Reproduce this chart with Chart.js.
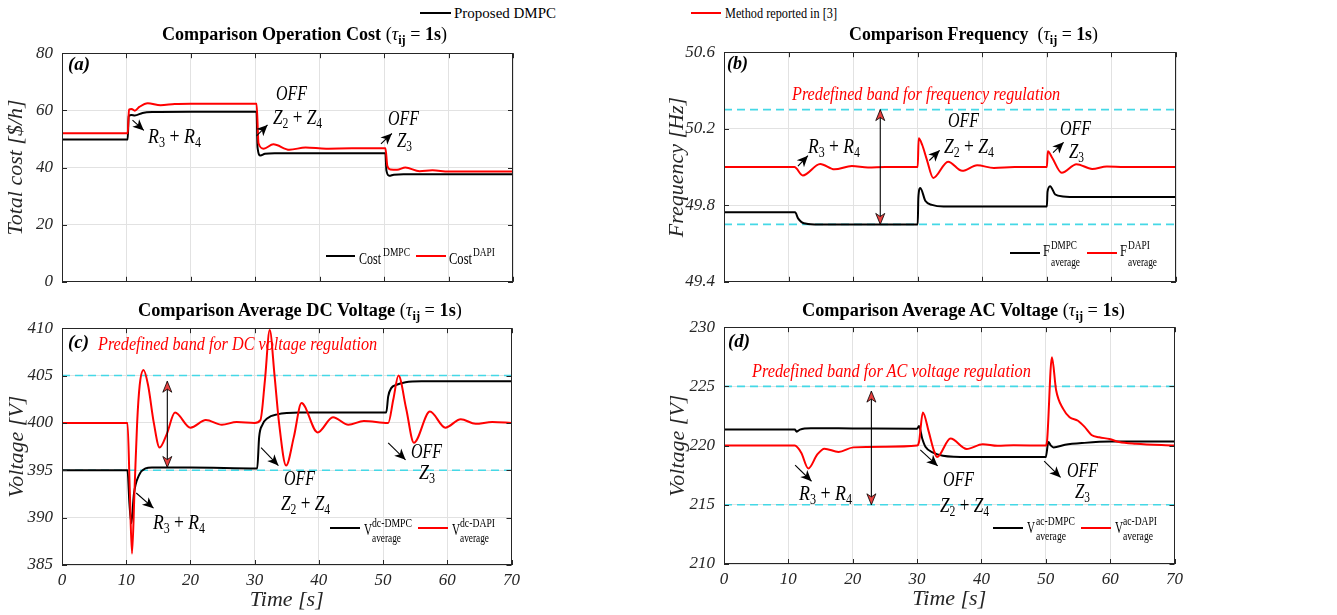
<!DOCTYPE html>
<html>
<head>
<meta charset="utf-8">
<script src="https://cdn.jsdelivr.net/npm/chart.js@4.4.1/dist/chart.umd.min.js"></script>
<style>
  body { margin: 0; background: #fff; width: 1337px; height: 615px; overflow: hidden; position: relative; font-family: "Liberation Serif", serif; }
  .panel { position: absolute; }
  .t { position: absolute; white-space: nowrap; line-height: 1; transform-origin: 0 50%; color: #000; }
  .t sub { font-size: 0.68em; vertical-align: -0.3em; line-height: 0; }
  .lg { font-size: 15px; }
  .ttl { font-size: 18px; }
  .tag { font-size: 19px; font-weight: bold; font-style: italic; }
  .band { font-size: 18px; font-style: italic; color: #ff0000; }
  .ann { font-size: 20px; }
  .ann i { font-style: italic; }
  .lgt { font-size: 16px; }
  .lgs { font-size: 12px; }
  .ln { position: absolute; height: 0; border-top: 2px solid #000; }
</style>
</head>
<body>
<div class="panel" style="left:0px;top:34px;width:525px;height:267px"><canvas id="chartCost"></canvas></div>
<div class="panel" style="left:660px;top:33px;width:528px;height:268px"><canvas id="chartFreq"></canvas></div>
<div class="panel" style="left:0px;top:309px;width:525px;height:304px"><canvas id="chartVdc"></canvas></div>
<div class="panel" style="left:660px;top:308px;width:528px;height:304px"><canvas id="chartVac"></canvas></div>
<script>
// ---- data ----
const timeTicks = [0, 10, 20, 30, 40, 50, 60, 70];
const costTicks = [0, 20, 40, 60, 80];
const freqTicks = [49.4, 49.8, 50.2, 50.6];
const vdcTicks = [385, 390, 395, 400, 405, 410];
const vacTicks = [210, 215, 220, 225, 230];

const freqBand = [49.7, 50.3];
const vdcBand = [395, 405];
const vacBand = [215, 225];

// (a) operation cost
const timeCostDmpc = [0, 10.2, 10.35, 10.8, 11.3, 12.5, 14, 20, 30.2, 30.35, 30.8, 31.5, 33, 50.2, 50.35, 50.8, 51.5, 53, 70];
const costDmpc = [49.8, 49.8, 58.0, 58.4, 58.2, 59.1, 59.4, 59.5, 59.5, 47.0, 44.2, 44.8, 45.0, 45.0, 39.0, 37.1, 37.5, 37.6, 37.6];
const timeCostDapi = [0, 10.2, 10.4, 10.8, 11.3, 12, 13.3, 15.3, 17.5, 20, 25, 30.2, 30.5, 31.3, 32.8, 35.3, 37.8, 41, 45, 50.2, 50.5, 51, 52, 53.3, 55.5, 57.5, 60, 70];
const costDapi = [52.0, 52.0, 60.3, 60.5, 59.9, 61.2, 62.5, 61.8, 62.2, 62.3, 62.3, 62.3, 48.5, 46.6, 48.1, 46.2, 47.0, 46.6, 46.7, 46.7, 40.5, 39.3, 39.2, 40.0, 38.7, 39.0, 38.6, 38.6];

// (b) frequency
const timeFreqDmpc = [0, 11, 11.5, 12, 13, 14, 30, 30.1, 30.4, 31.2, 32.2, 34, 50, 50.1, 50.5, 51.3, 52.5, 55, 70];
const freqDmpc = [49.763, 49.763, 49.73, 49.712, 49.702, 49.70, 49.70, 49.84, 49.89, 49.822, 49.802, 49.793, 49.793, 49.87, 49.9, 49.856, 49.846, 49.843, 49.843];
const timeFreqDapi = [0, 10.9, 12.2, 14.9, 17.1, 19.8, 22.3, 25, 30, 30.15, 30.7, 31.4, 32.4, 34.7, 36.9, 39.2, 41.8, 45, 50, 50.15, 50.8, 52.3, 54.6, 57, 59.3, 62, 70];
const freqDapi = [50.0, 50.0, 49.956, 50.016, 49.988, 50.005, 49.997, 50.0, 50.0, 50.15, 50.115, 50.04, 49.943, 50.028, 49.98, 50.009, 49.995, 50.0, 50.0, 50.082, 50.05, 49.97, 50.015, 49.99, 50.003, 50.0, 50.0];

// (c) average DC voltage
const timeVdcDmpc = [0, 10.2, 10.5, 10.8, 11.2, 12, 13, 14, 20, 30.4, 30.7, 31.2, 32, 33.5, 37, 50.5, 50.8, 51.3, 52, 53.5, 56, 70];
const vdcDmpc = [395, 395, 391.5, 389.4, 392.5, 394.5, 395.2, 395.3, 395.3, 395.2, 398.5, 399.8, 400.5, 400.9, 401.1, 401.1, 402.8, 403.7, 404.0, 404.3, 404.4, 404.4];
const timeVdcDapi = [0, 10.2, 10.55, 10.9, 11.3, 11.7, 12.1, 12.7, 13.4, 14.3, 15.2, 16.3, 17.6, 20, 22.4, 24.9, 27.2, 30, 30.9, 31.6, 32.35, 33.1, 33.8, 34.9, 36.1, 37.3, 39.8, 42.2, 44.6, 47, 50.8, 51.6, 52.4, 53.6, 54.8, 57.3, 59.7, 62.1, 64.4, 67, 70];
const vdcDapi = [400, 400, 393, 386.2, 393, 400, 404, 405.6, 404, 400, 397.4, 398.8, 401.1, 399.5, 400.3, 399.8, 400.1, 400, 400.3, 404.5, 409.8, 405, 400, 395.5, 398.5, 402.1, 399.0, 400.6, 399.8, 400.2, 400, 402.5, 405.0, 401.5, 397.9, 401.2, 399.5, 400.4, 399.9, 400.1, 400];

// (d) average AC voltage
const timeVacDmpc = [0, 11, 11.3, 11.8, 13.5, 20, 30, 30.3, 30.8, 31.3, 32.5, 34, 38, 50, 50.4, 50.8, 51.2, 53, 56, 60, 70];
const vacDmpc = [221.35, 221.35, 221.18, 221.35, 221.47, 221.45, 221.42, 221.65, 220.6, 219.9, 219.4, 219.15, 219.03, 219.03, 220.3, 220.0, 219.85, 220.07, 220.23, 220.34, 220.35];
const timeVacDapi = [0, 11, 12, 13.1, 14.5, 15.6, 17.8, 20.1, 25, 30, 30.3, 30.9, 31.8, 32.6, 33.1, 35.2, 37.7, 40.2, 42.5, 45, 50, 50.2, 50.95, 51.6, 52.7, 53.7, 55, 56, 57.1, 58.3, 59.9, 61.4, 64, 70];
const vacDapi = [220, 220, 219.4, 218.07, 219.25, 219.74, 219.47, 219.85, 219.9, 220, 220.3, 222.8, 221.2, 219.6, 219.04, 220.6, 219.72, 220.12, 219.98, 220.02, 220, 220.4, 227.47, 224.7, 223.1, 222.4, 222.1, 221.6, 220.9, 220.7, 220.56, 220.3, 220.15, 220.0];

// annotation arrows, in data units: [t1, v1, t2, v2]
const arrowsCost = [[10.94, 56.6, 12.7, 52.96], [30.2, 51.1, 31.9, 54.9], [49.5, 48.3, 51.2, 51.9]];
const arrowsFreq = [[11.45, 50.004, 13.0, 50.059], [31.8, 50.034, 33.4, 50.087], [50.96, 50.075, 52.6, 50.129]];
const arrowsVdc = [[11.56, 392.6, 14.25, 391.0], [31.0, 397.4, 33.7, 395.5], [50.8, 397.9, 53.5, 396.1]];
const arrowsVac = [[11.05, 218.36, 13.6, 216.99], [30.5, 219.64, 33.2, 218.28], [49.75, 218.69, 52.3, 217.31]];
// double arrows marking the bands: [t, v1, v2]
const spanFreq = [24.2, 50.3, 49.7];
const spanVdc = [16.4, 404.4, 395.3];
const spanVac = [22.9, 224.6, 215];

const GRID = '#e2e2e2';
const AXIS = '#262626';
const CYAN = '#45d8e6';
const tickFont = { family: 'Liberation Serif', size: 17, style: 'italic' };
const titleFont = { family: 'Liberation Serif', size: 22, style: 'italic' };

function pts(ts, vs) {
  return ts.map((t, i) => ({ x: t, y: vs[i] }));
}

function head(ctx, x1, y1, x2, y2, len, half) {
  const a = Math.atan2(y2 - y1, x2 - x1);
  const c = Math.cos(a), s = Math.sin(a);
  const bx = x2 - len * c, by = y2 - len * s;
  ctx.beginPath();
  ctx.moveTo(x2, y2);
  ctx.lineTo(bx - half * s, by + half * c);
  ctx.lineTo(x2 - len * 0.72 * c, y2 - len * 0.72 * s);
  ctx.lineTo(bx + half * s, by - half * c);
  ctx.closePath();
}

// box, inward ticks and annotation arrows (MATLAB look)
const overlayPlugin = {
  id: 'overlay',
  afterDraw(chart, args, opts) {
    const { ctx, chartArea: ca } = chart;
    const x = chart.scales.x, y = chart.scales.y;
    ctx.save();
    ctx.strokeStyle = AXIS;
    ctx.lineWidth = 1;
    ctx.beginPath();
    opts.xt.forEach(v => {
      const px = Math.round(x.getPixelForValue(v)) + 0.5;
      ctx.moveTo(px, ca.bottom); ctx.lineTo(px, ca.bottom - 5);
      ctx.moveTo(px, ca.top); ctx.lineTo(px, ca.top + 5);
    });
    opts.yt.forEach(v => {
      const py = Math.round(y.getPixelForValue(v)) + 0.5;
      ctx.moveTo(ca.left, py); ctx.lineTo(ca.left + 5, py);
      ctx.moveTo(ca.right, py); ctx.lineTo(ca.right - 5, py);
    });
    ctx.stroke();
    ctx.strokeRect(Math.round(ca.left) + 0.5, Math.round(ca.top) + 0.5,
      Math.round(ca.right - ca.left) - 1, Math.round(ca.bottom - ca.top) - 1);

    ctx.strokeStyle = '#000';
    ctx.fillStyle = '#000';
    (opts.arrows || []).forEach(a => {
      const x1 = x.getPixelForValue(a[0]), y1 = y.getPixelForValue(a[1]);
      const x2 = x.getPixelForValue(a[2]), y2 = y.getPixelForValue(a[3]);
      ctx.lineWidth = 1.1;
      ctx.beginPath(); ctx.moveTo(x1, y1); ctx.lineTo(x2, y2); ctx.stroke();
      head(ctx, x1, y1, x2, y2, 11, 5);
      ctx.fill();
    });
    if (opts.span) {
      const s = opts.span;
      const px = x.getPixelForValue(s[0]);
      const p1 = y.getPixelForValue(s[1]), p2 = y.getPixelForValue(s[2]);
      ctx.lineWidth = 1.1;
      ctx.beginPath(); ctx.moveTo(px, p1); ctx.lineTo(px, p2); ctx.stroke();
      ctx.fillStyle = '#e8403f';
      ctx.lineWidth = 0.8;
      head(ctx, px, p2, px, p1, 11, 4.5); ctx.fill(); ctx.stroke();
      head(ctx, px, p1, px, p2, 11, 4.5); ctx.fill(); ctx.stroke();
    }
    ctx.restore();
  }
};

function makeChart(id, c) {
  const datasets = [
    { data: pts(c.tRed, c.vRed), borderColor: '#ff0000', order: 0 },
    { data: pts(c.tBlack, c.vBlack), borderColor: '#000000', order: 1 }
  ];
  (c.band || []).forEach(b => {
    datasets.push({ data: [{ x: 0, y: b }, { x: 70, y: b }], borderColor: CYAN, borderWidth: 1.6, borderDash: [8, 5], order: 2, cubicInterpolationMode: 'default', tension: 0 });
  });
  new Chart(document.getElementById(id), {
    type: 'line',
    data: { datasets },
    options: {
      animation: false,
      responsive: true,
      maintainAspectRatio: false,
      layout: { padding: { top: 12, right: 12, left: 0, bottom: 0 } },
      elements: { point: { radius: 0 }, line: { borderWidth: 2, cubicInterpolationMode: 'monotone' } },
      plugins: {
        legend: { display: false },
        tooltip: { enabled: false },
        overlay: { xt: timeTicks, yt: c.yTicks, arrows: c.arrows, span: c.span }
      },
      scales: {
        x: {
          type: 'linear', min: 0, max: 70,
          afterBuildTicks: s => { s.ticks = timeTicks.map(v => ({ value: v })); },
          afterFit: s => { s.height = c.xh; },
          grid: { color: GRID, drawTicks: false },
          border: { display: false },
          ticks: { display: c.showX, padding: 5, font: tickFont, color: AXIS, maxRotation: 0 },
          title: { display: c.showX, text: 'Time [s]', font: titleFont, color: AXIS, padding: { top: 0, bottom: 0 } }
        },
        y: {
          type: 'linear', min: c.yTicks[0], max: c.yTicks[c.yTicks.length - 1],
          afterBuildTicks: s => { s.ticks = c.yTicks.map(v => ({ value: v })); },
          afterFit: s => { s.width = c.yw; },
          grid: { color: GRID, drawTicks: false },
          border: { display: false },
          ticks: { padding: 9, font: tickFont, color: AXIS, callback: v => c.fmt ? v.toFixed(1) : String(v) },
          title: { display: true, text: c.yTitle, font: titleFont, color: AXIS, padding: { top: c.yTitlePad, bottom: 0 } }
        }
      }
    },
    plugins: [overlayPlugin]
  });
}

makeChart('chartCost', { tBlack: timeCostDmpc, vBlack: costDmpc, tRed: timeCostDapi, vRed: costDapi,
  yTicks: costTicks, yw: 62, xh: 12, showX: false, yTitle: 'Total cost [$/h]', yTitlePad: 3, arrows: arrowsCost });
makeChart('chartFreq', { tBlack: timeFreqDmpc, vBlack: freqDmpc, tRed: timeFreqDapi, vRed: freqDapi, band: freqBand, fmt: true,
  yTicks: freqTicks, yw: 64, xh: 12, showX: false, yTitle: 'Frequency [Hz]', yTitlePad: 4, arrows: arrowsFreq, span: spanFreq });
makeChart('chartVdc', { tBlack: timeVdcDmpc, vBlack: vdcDmpc, tRed: timeVdcDapi, vRed: vdcDapi, band: vdcBand,
  yTicks: vdcTicks, yw: 62, xh: 48, showX: true, yTitle: 'Voltage [V]', yTitlePad: 4, arrows: arrowsVdc, span: spanVdc });
makeChart('chartVac', { tBlack: timeVacDmpc, vBlack: vacDmpc, tRed: timeVacDapi, vRed: vacDapi, band: vacBand,
  yTicks: vacTicks, yw: 64, xh: 48, showX: true, yTitle: 'Voltage [V]', yTitlePad: 5, arrows: arrowsVac, span: spanVac });

// ---- text overlays: [left, width, centerY, html, class] ----
const R34 = '<i>R</i><sub>3</sub> + <i>R</i><sub>4</sub>';
const Z24 = '<i>Z</i><sub>2</sub> + <i>Z</i><sub>4</sub>';
const Z3 = '<i>Z</i><sub>3</sub>';
const OFF = '<i>OFF</i>';
const TAU = '(<i>τ</i><sub><b>ij</b></sub> = <b>1s</b>)';
const texts = [
  [454, 102, 13, 'Proposed DMPC', 'lg'],
  [725, 112, 13, 'Method reported in [3]', 'lg'],
  [162, 285, 34, '<b>Comparison Operation Cost</b> ' + TAU, 'ttl'],
  [849, 249, 34, '<b>Comparison Frequency</b>&nbsp; ' + TAU, 'ttl'],
  [138, 324, 310, '<b>Comparison Average DC Voltage</b> ' + TAU, 'ttl'],
  [802, 323, 310, '<b>Comparison Average AC Voltage</b> ' + TAU, 'ttl'],
  [68, 22, 63, '(a)', 'tag'], [727, 21, 62, '(b)', 'tag'], [68, 21, 341, '(c)', 'tag'], [728, 22, 340, '(d)', 'tag'],
  [792, 268, 94, 'Predefined band for frequency regulation', 'band'],
  [98, 279, 344, 'Predefined band for DC voltage regulation', 'band'],
  [752, 279, 371, 'Predefined band for AC voltage regulation', 'band'],
  [148, 53, 136, R34, 'ann'], [276, 31, 93, OFF, 'ann'], [273, 49, 117, Z24, 'ann'], [388, 31, 118, OFF, 'ann'], [397, 15, 140, Z3, 'ann'],
  [808, 52, 146, R34, 'ann'], [948, 31, 120, OFF, 'ann'], [944, 50, 146, Z24, 'ann'], [1060, 31, 128, OFF, 'ann'], [1069, 15, 151, Z3, 'ann'],
  [153, 52, 522, R34, 'ann'], [284, 31, 478, OFF, 'ann'], [281, 49, 503, Z24, 'ann'], [411, 31, 451, OFF, 'ann'], [419, 16, 472, Z3, 'ann'],
  [799, 53, 493, R34, 'ann'], [943, 31, 479, OFF, 'ann'], [940, 49, 505, Z24, 'ann'], [1067, 31, 470, OFF, 'ann'], [1075, 15, 491, Z3, 'ann'],
  [359, 22, 259, 'Cost', 'lgt'], [383, 27, 251.5, 'DMPC', 'lgs'], [449, 23, 259, 'Cost', 'lgt'], [473, 22, 251.5, 'DAPI', 'lgs'],
  [1043, 7, 250.5, 'F', 'lgt'], [1051, 26, 245, 'DMPC', 'lgs'], [1051, 29, 261.5, 'average', 'lgs'],
  [1120, 7, 250.5, 'F', 'lgt'], [1128, 22, 245, 'DAPI', 'lgs'], [1128, 29, 261.5, 'average', 'lgs'],
  [364, 8, 530, 'V', 'lgt'], [372, 40, 522.5, 'dc-DMPC', 'lgs'], [372, 29, 538, 'average', 'lgs'],
  [452, 8, 530, 'V', 'lgt'], [460, 35, 522.5, 'dc-DAPI', 'lgs'], [460, 29, 538, 'average', 'lgs'],
  [1027, 8, 528, 'V', 'lgt'], [1036, 39, 521, 'ac-DMPC', 'lgs'], [1036, 30, 536, 'average', 'lgs'],
  [1115, 8, 528, 'V', 'lgt'], [1123, 34, 521, 'ac-DAPI', 'lgs'], [1123, 30, 536, 'average', 'lgs']
];
// legend sample lines: [left, width, y, colour]
const legendLines = [
  [420, 31, 13, '#000'], [691, 30, 13, '#f00'],
  [326, 29, 256, '#000'], [416, 30, 256, '#f00'],
  [1010, 30, 252.5, '#000'], [1087, 30, 252.5, '#f00'],
  [330, 30, 528, '#000'], [418, 30, 528, '#f00'],
  [993, 30, 527.5, '#000'], [1081, 30, 527.5, '#f00']
];

legendLines.forEach(l => {
  const d = document.createElement('div');
  d.className = 'ln';
  d.style.left = l[0] + 'px';
  d.style.width = l[1] + 'px';
  d.style.top = (l[2] - 1) + 'px';
  d.style.borderTopColor = l[3];
  document.body.appendChild(d);
});

texts.forEach(t => {
  const el = document.createElement('div');
  el.className = 't ' + t[4];
  el.innerHTML = t[3];
  el.style.left = t[0] + 'px';
  el.style.top = t[2] + 'px';
  document.body.appendChild(el);
  const r = el.getBoundingClientRect();
  const k = t[1] / r.width;
  el.style.transform = 'translateY(-50%) scaleX(' + k.toFixed(3) + ')';
});
</script>
</body>
</html>
